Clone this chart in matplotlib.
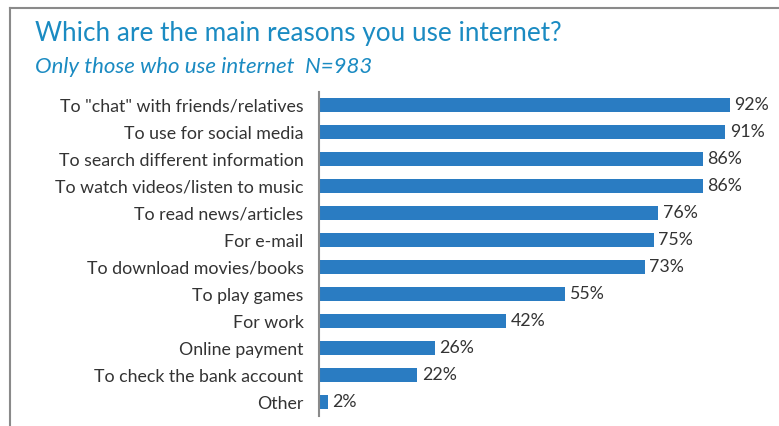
import matplotlib.pyplot as plt
from matplotlib.lines import Line2D

reasons = [
    'To "chat" with friends/relatives',
    'To use for social media',
    'To search different information',
    'To watch videos/listen to music',
    'To read news/articles',
    'For e-mail',
    'To download movies/books',
    'To play games',
    'For work',
    'Online payment',
    'To check the bank account',
    'Other',
]
percent = [92, 91, 86, 86, 76, 75, 73, 55, 42, 26, 22, 2]
labels = ['92%', '91%', '86%', '86%', '76%', '75%', '73%', '55%', '42%', '26%', '22%', '2%']

plt.rcParams['font.family'] = ['Lato', 'DejaVu Sans']

fig = plt.figure(figsize=(7.79, 4.26), dpi=100)
ax = fig.add_axes([0.4095, 0.0246, 0.573, 0.7606])

y = list(range(len(reasons)))
ax.barh(y, percent, height=0.52, color='#2a7cc2')
for yi, v, lab in zip(y, percent, labels):
    ax.text(v + 1.0, yi, lab, va='center', ha='left', fontsize=12.8, color='#333333')

ax.set_xlim(0, 100)
ax.set_ylim(len(reasons) - 0.5, -0.5)
ax.set_yticks(y)
ax.set_yticklabels(reasons, fontsize=12.8, color='#333333')
ax.tick_params(axis='y', length=0, pad=11)
ax.set_xticks([])
for s in ['top', 'right', 'bottom']:
    ax.spines[s].set_visible(False)
ax.spines['left'].set_color('#8a8a8a')
ax.spines['left'].set_linewidth(1.5)

fig.text(35 / 779, 1 - 33 / 426, 'Which are the main reasons you use internet?',
         fontsize=18.8, color='#1b8bc2', va='center', ha='left')
fig.text(35 / 779, 1 - 67 / 426, 'Only those who use internet  N=983',
         fontsize=16, color='#1b8bc2', style='italic', va='center', ha='left')

# frame around the chart
fig.add_artist(Line2D([9.5 / 779, 1], [1 - 8 / 426, 1 - 8 / 426], color='#8a8a8a', lw=1.5))
fig.add_artist(Line2D([9.5 / 779, 9.5 / 779], [0, 1 - 8 / 426], color='#8a8a8a', lw=1.5))

plt.savefig('out.png', dpi=100)
